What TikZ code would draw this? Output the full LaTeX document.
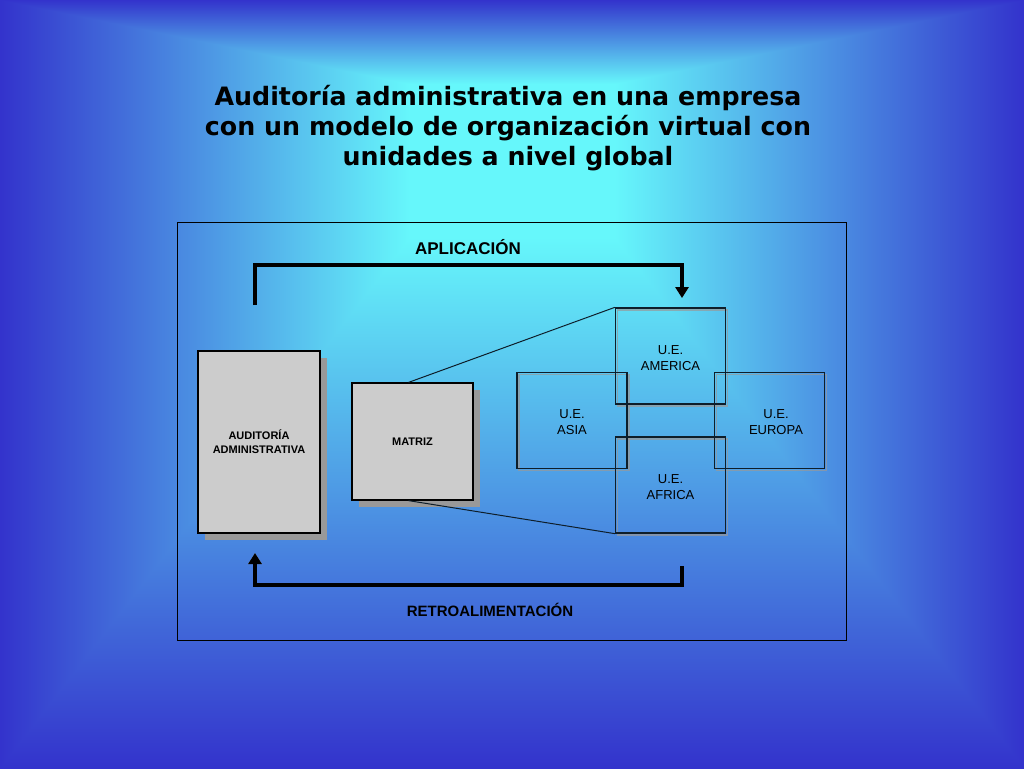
\documentclass[tikz,border=0pt]{standalone}
\usepackage{fontspec}
\setmainfont{Liberation Sans}
\newfontfamily\titlefont{DejaVu Sans}
\usetikzlibrary{arrows.meta,shadows}
\definecolor{edgeblue}{HTML}{3333CC}
\definecolor{centcyan}{HTML}{66F7FB}
\definecolor{boxgray}{HTML}{CCCCCC}
\definecolor{shadowgray}{HTML}{999999}
\definecolor{uedark}{HTML}{0E1E2A}
\pgfdeclareverticalshading{bgv}{100bp}{color(0bp)=(centcyan); color(25bp)=(centcyan); color(35bp)=(centcyan); color(75bp)=(edgeblue); color(100bp)=(edgeblue)}
\pgfdeclarehorizontalshading{bgh}{100bp}{color(0bp)=(edgeblue); color(25bp)=(edgeblue); color(65bp)=(centcyan); color(75bp)=(centcyan); color(100bp)=(centcyan)}
\tikzset{
  bigbox/.style={draw=black, line width=1.2pt, fill=boxgray, font=\bfseries\fontsize{11}{14}\selectfont,
    align=center, inner sep=0pt,
    copy shadow={shadow xshift=7pt, shadow yshift=-7pt, fill=shadowgray, draw=none}},
  uebox/.style={draw=uedark, line width=1.3pt, minimum width=110pt, minimum height=96pt, inner sep=0pt},
  uebshadow/.style={draw=shadowgray, draw opacity=0.7, line width=1.3pt, minimum width=110pt, minimum height=96pt, inner sep=0pt},
  uetext/.style={font=\fontsize{13}{16}\selectfont, align=center, inner sep=0pt},
  flowline/.style={line width=4pt, black},
  flowshadow/.style={line width=4pt, shadowgray},
  tip/.style={-{Triangle[width=13pt,length=11pt]}},
  lbl/.style={font=\bfseries\fontsize{17}{19}\selectfont, text=black},
  zoomline/.style={line width=1pt, uedark},
}
\begin{document}
\begin{tikzpicture}[x=1pt,y=-1pt]
\useasboundingbox (0,0) rectangle (1024,768);
% background: rectangular gradient with focus at (512,105)
\fill[edgeblue] (-2,-2) rectangle (1026,770);
\shade[shading=bgh] (0,-4) -- (512,101) -- (512,109) -- (0,772) -- cycle;
\shade[shading=bgh, shading angle=180] (1024,-4) -- (1024,772) -- (512,109) -- (512,101) -- cycle;
\shade[shading=bgv] (0,0) -- (1024,0) -- (512,105) -- cycle;
\shade[shading=bgv, shading angle=180] (0,768) -- (1024,768) -- (512,105) -- cycle;

% title
\node[font=\titlefont\bfseries\fontsize{25.3}{30}\selectfont, align=center] (title) at (508,128)
  {Auditoría administrativa en una empresa\\con un modelo de organización virtual con\\unidades a nivel global};

% frame
\node[draw=black, line width=0.8pt, minimum width=669pt, minimum height=418pt, inner sep=0pt] (frame) at (511.5,431) {};

% labels
\node[lbl] (aplic) at (468,247) {APLICACIÓN};
\node[lbl, font=\bfseries\fontsize{15}{17}\selectfont] (retro) at (490,610) {RETROALIMENTACIÓN};

% main boxes
\node[bigbox, minimum width=122pt, minimum height=182pt] (aud) at (259,442) {AUDITORÍA\\ADMINISTRATIVA};
\node[bigbox, minimum width=121pt, minimum height=117pt] (matriz) at (412.5,441.5) {MATRIZ};

% UE boxes shadows
\foreach \nm/\px/\py in {sam/670.5/356, sas/572/420.5, seu/769.5/420.5, saf/670.5/485}
  \node[uebshadow] (\nm) at (\px+2,\py+2) {};
\node[uebox] (ame) at (670.5,356) {};
\node[uebox] (asi) at (572,420.5) {};
\node[uebox] (eur) at (769.5,420.5) {};
\node[uebox] (afr) at (670.5,485) {};
\node[uetext] (amet) at (670.5,358) {U.E.\\AMERICA};
\node[uetext] (asit) at (572,422) {U.E.\\ASIA};
\node[uetext] (eurt) at (776,422) {U.E.\\EUROPA};
\node[uetext] (afrt) at (670.5,487) {U.E.\\AFRICA};

% zoom lines
\coordinate (mt) at ([xshift=-4pt]matriz.north);
\coordinate (mb) at ([xshift=-4pt]matriz.south);
\draw[zoomline] (mt) -- (ame.north west);
\draw[zoomline] (mb) -- (afr.south west);

% flow arrows
\coordinate (a1) at (255,305);
\coordinate (a2) at (682,298);
\coordinate (b1) at (682,566);
\coordinate (b2) at (255,553);
\begin{scope}[xshift=3pt,yshift=-3pt]
\draw[flowshadow, tip] (a1) -- ++(0,-40) -| (a2);
\draw[flowshadow, tip] (b1) -- ++(0,19) -| (b2);
\end{scope}
\draw[flowline, tip] (a1) -- ++(0,-40) -| (a2);
\draw[flowline, tip] (b1) -- ++(0,19) -| (b2);
\end{tikzpicture}
\end{document}
